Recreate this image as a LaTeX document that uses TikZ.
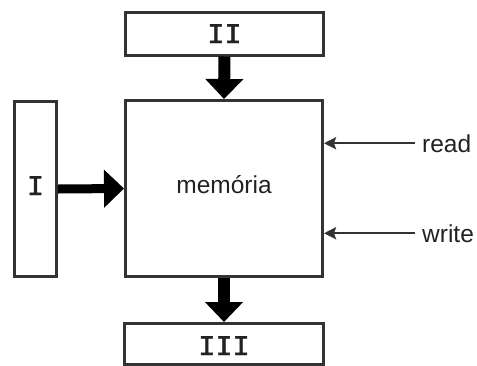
\documentclass[tikz,border=0pt]{standalone}
\usepackage{fontspec}
\setmainfont{Liberation Sans}
\newfontfamily\monof[FakeBold=1.5]{Liberation Mono}
\usetikzlibrary{arrows.meta}
\definecolor{edgec}{HTML}{333333}
\definecolor{inkc}{HTML}{222222}
\begin{document}
\begin{tikzpicture}[x=1pt,y=-1pt,
  box/.style={draw=edgec, line width=3pt, rectangle, inner sep=0pt, fill=white},
  mono/.style={font=\monof\fontsize{28.5}{29}\selectfont, text=inkc, text depth=0pt},
  sans/.style={font=\fontsize{24.5}{25}\selectfont, text=inkc},
  bigarrow/.style={line width=12pt, -{Triangle[length=20pt,width=37pt]}, black},
  hbigarrow/.style={line width=9pt, -{Triangle[length=20pt,width=37pt]}, black},
  sig/.style={line width=2.5pt, -{Stealth[length=12pt,width=12pt,inset=2pt]}, edgec},
  siglabel/.style={sans, anchor=base west, inner xsep=7pt, inner ysep=0pt}]
\useasboundingbox (0,0) rectangle (477,365);
\clip (0,0) rectangle (477,365);
\fill[white] (0,0) rectangle (477,365);

\node[box, mono, text height=18.5pt, minimum width=198pt, minimum height=42.5pt] (II) at (224.5,33.75) {II};
\node[box, sans, text height=9pt, text depth=0pt, minimum width=197pt, minimum height=176pt] (mem) at (224,188.5) {memória};
\node[box, mono, text height=12pt, minimum width=42pt, minimum height=175pt] (I) at (35.5,189) {I};
\node[box, mono, text height=22pt, minimum width=199pt, minimum height=41pt] (III) at (224,344) {III};

\node[siglabel] (read) at (415,152) {read};
\node[siglabel] (write) at (415,242) {write};

\draw[bigarrow] (II.south) -- (mem.north);
\draw[hbigarrow] (I.east) -- (mem.west);
\draw[bigarrow] (mem.south) -- (III.north);
\draw[sig] (read.west) -- (read.west -| mem.east);
\draw[sig] (write.west) -- (write.west -| mem.east);
\end{tikzpicture}
\end{document}
